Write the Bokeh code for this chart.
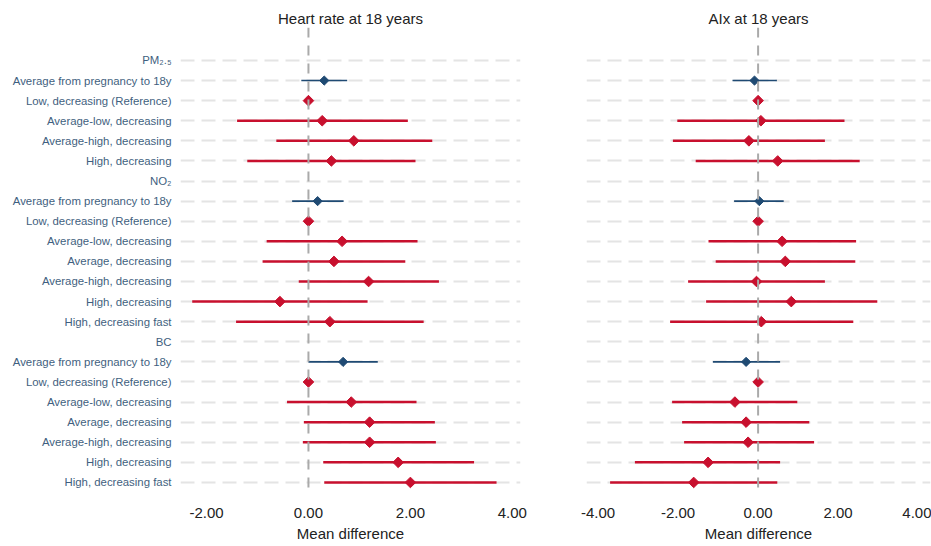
import numpy as np
from bokeh.plotting import figure
from bokeh.models import (Range1d, FixedTicker, Span, ColumnDataSource,
                          NumeralTickFormatter)
from bokeh.layouts import row
from bokeh.embed import file_html
from bokeh.resources import INLINE

# ---------------- data ----------------
row_labels = [
    "PM₂.₅", "Average from pregnancy to 18y", "Low, decreasing (Reference)",
    "Average-low, decreasing", "Average-high, decreasing", "High, decreasing",
    "NO₂", "Average from pregnancy to 18y", "Low, decreasing (Reference)",
    "Average-low, decreasing", "Average, decreasing", "Average-high, decreasing",
    "High, decreasing", "High, decreasing fast",
    "BC", "Average from pregnancy to 18y", "Low, decreasing (Reference)",
    "Average-low, decreasing", "Average, decreasing", "Average-high, decreasing",
    "High, decreasing", "High, decreasing fast",
]
row_kind = [
    "header", "continuous", "category", "category", "category", "category",
    "header", "continuous", "category", "category", "category", "category", "category", "category",
    "header", "continuous", "category", "category", "category", "category", "category", "category",
]

hr_est = [None, 0.31, 0.00, 0.27, 0.89, 0.45,
          None, 0.18, 0.00, 0.66, 0.50, 1.18, -0.56, 0.42,
          None, 0.68, 0.00, 0.84, 1.20, 1.20, 1.76, 2.00]
hr_lo = [None, -0.14, 0.00, -1.40, -0.63, -1.20,
         None, -0.32, 0.00, -0.82, -0.90, -0.19, -2.28, -1.42,
         None, 0.00, 0.00, -0.42, -0.09, -0.11, 0.29, 0.31]
hr_hi = [None, 0.76, 0.00, 1.95, 2.43, 2.10,
         None, 0.69, 0.00, 2.14, 1.90, 2.56, 1.16, 2.26,
         None, 1.36, 0.00, 2.12, 2.48, 2.50, 3.25, 3.69]

aix_est = [None, -0.09, 0.00, 0.07, -0.23, 0.49,
           None, 0.03, 0.00, 0.60, 0.68, -0.04, 0.83, 0.08,
           None, -0.30, 0.00, -0.58, -0.30, -0.25, -1.25, -1.61]
aix_lo = [None, -0.64, 0.00, -2.02, -2.13, -1.56,
          None, -0.60, 0.00, -1.24, -1.06, -1.75, -1.30, -2.20,
          None, -1.13, 0.00, -2.15, -1.90, -1.85, -3.08, -3.70]
aix_hi = [None, 0.47, 0.00, 2.16, 1.67, 2.54,
          None, 0.64, 0.00, 2.45, 2.43, 1.67, 2.98, 2.38,
          None, 0.55, 0.00, 0.98, 1.28, 1.40, 0.55, 0.48]

x_ticks = [-4, -2, 0, 2, 4]

# ---------------- style ----------------
FONT = "Liberation Sans"
RED = "#c8102e"
BLUE = "#1f4a73"
LABEL_COLOR = "#3f5f80"
n = len(row_labels)
y_idx = list(range(n))
H = 546


def make_panel(title, est, lo, hi, xr, width, border_left, border_right, show_y):
    p = figure(width=width, height=H, output_backend="svg", toolbar_location=None,
               x_range=xr, y_range=Range1d(start=21.6, end=-1.64),
               min_border_left=border_left, min_border_right=border_right,
               min_border_top=27, min_border_bottom=52, title=title)
    p.outline_line_color = None
    p.background_fill_color = "white"
    p.border_fill_color = "white"
    p.title.align = "center"
    p.title.standoff = 2
    p.title.text_font = FONT
    p.title.text_font_size = "15px"
    p.title.text_font_style = "normal"
    p.title.text_color = "#222222"

    # axes
    p.xaxis.ticker = FixedTicker(ticks=x_ticks)
    p.xaxis.formatter = NumeralTickFormatter(format="0.00")
    p.xaxis.axis_line_color = None
    p.xaxis.major_tick_line_color = None
    p.xaxis.minor_tick_line_color = None
    p.xaxis.major_label_text_font = FONT
    p.xaxis.major_label_text_font_size = "15px"
    p.xaxis.major_label_text_color = "#222222"
    p.xaxis.major_label_standoff = 7
    p.xaxis.axis_label = "Mean difference"
    p.xaxis.axis_label_text_font = FONT
    p.xaxis.axis_label_text_font_size = "15px"
    p.xaxis.axis_label_text_font_style = "normal"
    p.xaxis.axis_label_text_color = "#222222"
    p.xaxis.axis_label_standoff = 4

    yt = FixedTicker(ticks=y_idx)
    p.yaxis.ticker = yt
    p.yaxis.major_label_overrides = {i: lab for i, lab in enumerate(row_labels)}
    p.yaxis.axis_line_color = None
    p.yaxis.major_tick_line_color = None
    p.yaxis.minor_tick_line_color = None
    p.yaxis.major_label_text_font = FONT
    p.yaxis.major_label_text_font_size = "11.4px"
    p.yaxis.major_label_text_color = LABEL_COLOR
    p.yaxis.major_label_standoff = 3
    if not show_y:
        p.yaxis.visible = False

    p.xgrid.grid_line_color = None
    p.ygrid.ticker = yt
    p.ygrid.grid_line_color = "#e4e4e4"
    p.ygrid.grid_line_width = 2
    p.ygrid.grid_line_dash = "14 7"

    p.add_layout(Span(location=0, dimension="height", line_color="#aaaaaa",
                      line_width=2, line_dash="10 8"))

    for kind, color, lw, size in (("category", RED, 2.5, 7.5), ("continuous", BLUE, 1.6, 6.5)):
        ys = [i for i in y_idx if row_kind[i] == kind and est[i] is not None]
        src = ColumnDataSource(dict(y=ys, est=[est[i] for i in ys],
                                    lo=[lo[i] for i in ys], hi=[hi[i] for i in ys]))
        p.segment(x0="lo", x1="hi", y0="y", y1="y", source=src,
                  line_color=color, line_width=lw)
        p.scatter(x="est", y="y", source=src, marker="square", angle=np.pi / 4,
                  size=size, fill_color=color, line_color=color)
    return p


left = make_panel("Heart rate at 18 years", hr_est, hr_lo, hr_hi,
                  Range1d(-2.51, 4.16), 560, 180, 40, True)
right = make_panel("AIx at 18 years", aix_est, aix_lo, aix_hi,
                   Range1d(-4.29, 4.31), 371, 26, 1, False)

layout = row(left, right)
open("out.html", "w").write(file_html(layout, INLINE))
